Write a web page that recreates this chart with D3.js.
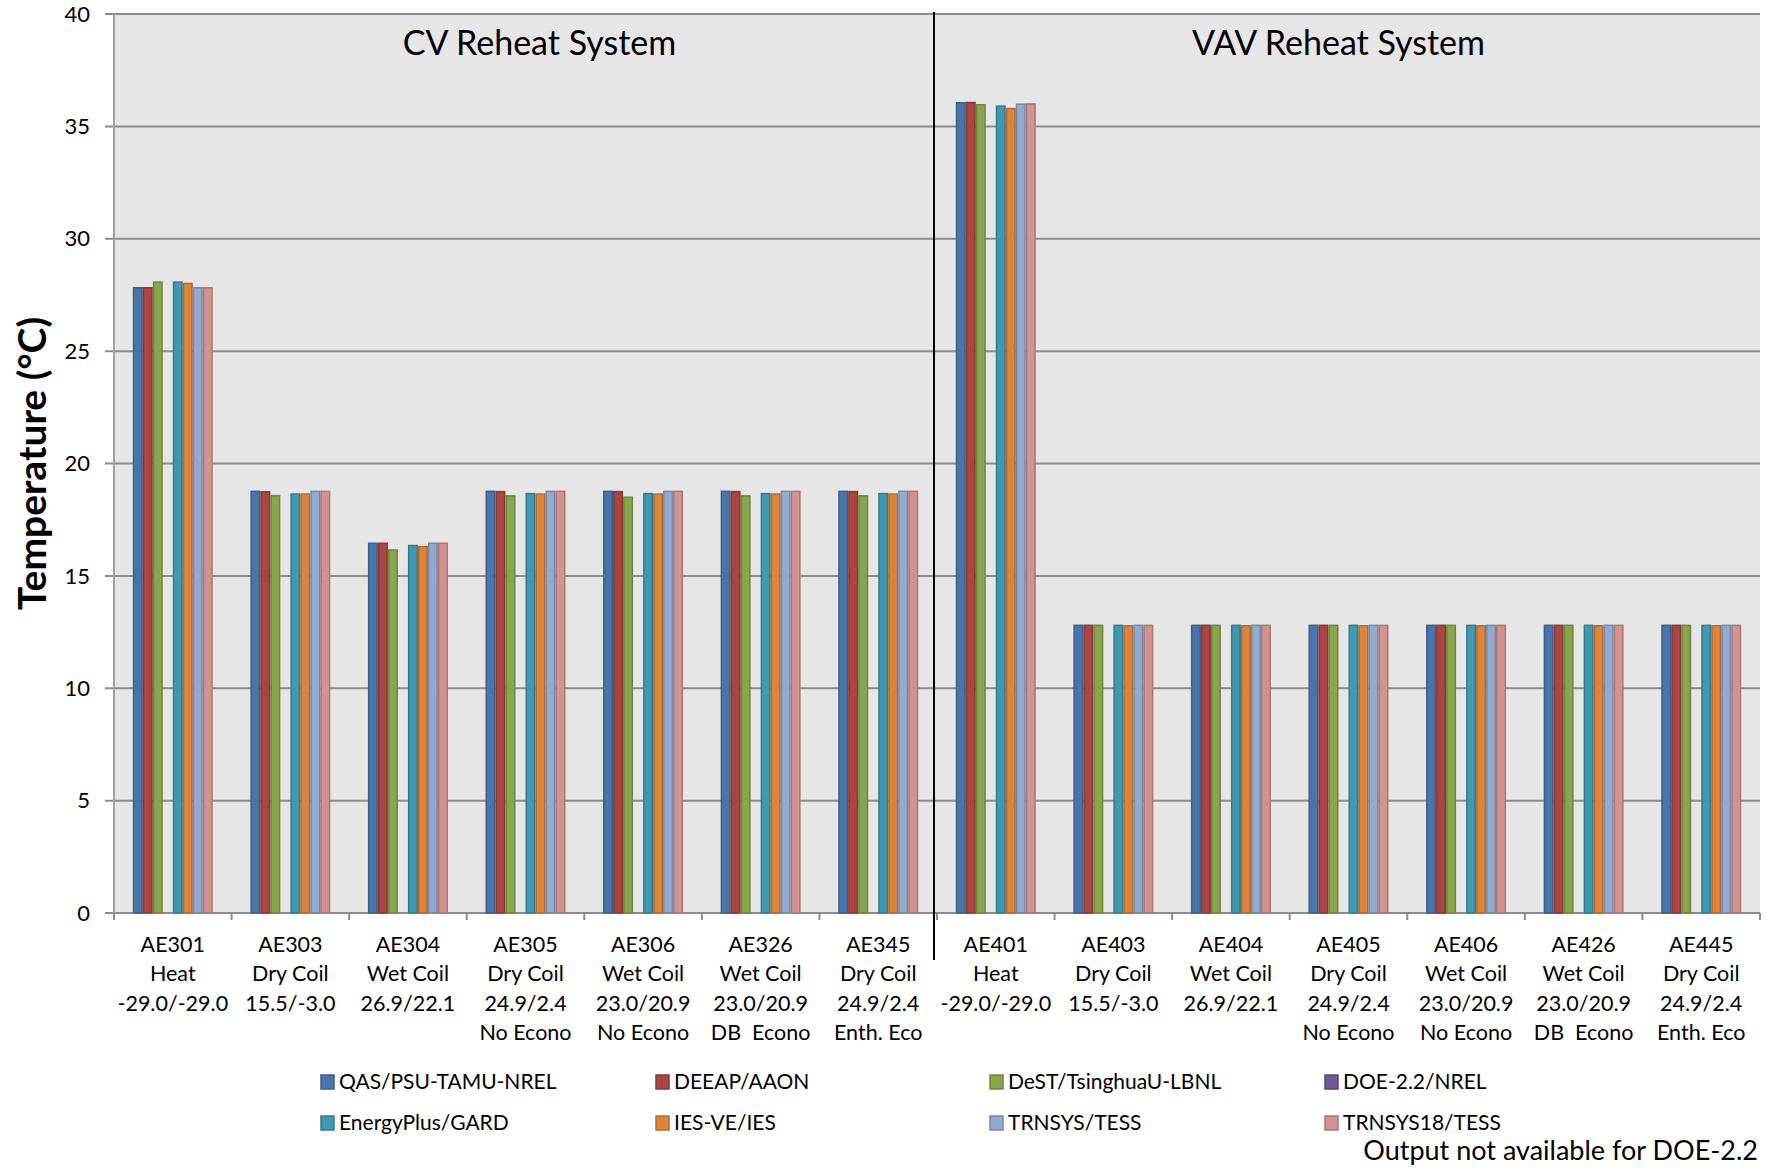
<!DOCTYPE html>
<html>
<head>
<meta charset="utf-8">
<script src="https://cdn.jsdelivr.net/npm/d3@7"></script>
<style>
  body { margin: 0; background: #fff; }
  text { font-family: Lato, "Open Sans", sans-serif; fill: #000; }
</style>
</head>
<body>
<div id="chart"></div>
<script>
// category labels (one array of lines per case)
var categories = [
	["AE301", "Heat", "-29.0/-29.0"],
	["AE303", "Dry Coil", "15.5/-3.0"],
	["AE304", "Wet Coil", "26.9/22.1"],
	["AE305", "Dry Coil", "24.9/2.4", "No Econo"],
	["AE306", "Wet Coil", "23.0/20.9", "No Econo"],
	["AE326", "Wet Coil", "23.0/20.9", "DB  Econo"],
	["AE345", "Dry Coil", "24.9/2.4", "Enth. Eco"],
	["AE401", "Heat", "-29.0/-29.0"],
	["AE403", "Dry Coil", "15.5/-3.0"],
	["AE404", "Wet Coil", "26.9/22.1"],
	["AE405", "Dry Coil", "24.9/2.4", "No Econo"],
	["AE406", "Wet Coil", "23.0/20.9", "No Econo"],
	["AE426", "Wet Coil", "23.0/20.9", "DB  Econo"],
	["AE445", "Dry Coil", "24.9/2.4", "Enth. Eco"]
];

var seriesNames = ["QAS/PSU-TAMU-NREL", "DEEAP/AAON", "DeST/TsinghuaU-LBNL", "DOE-2.2/NREL",
	"EnergyPlus/GARD", "IES-VE/IES", "TRNSYS/TESS", "TRNSYS18/TESS"];

var qas       = [27.82, 18.76, 16.45, 18.76, 18.76, 18.76, 18.76, 36.05, 12.80, 12.80, 12.80, 12.80, 12.80, 12.80];
var deeap     = [27.82, 18.74, 16.45, 18.75, 18.75, 18.75, 18.75, 36.06, 12.80, 12.80, 12.80, 12.80, 12.80, 12.80];
var dest      = [28.07, 18.57, 16.15, 18.56, 18.50, 18.56, 18.56, 35.96, 12.80, 12.80, 12.80, 12.80, 12.80, 12.80];
var doe22     = [null, null, null, null, null, null, null, null, null, null, null, null, null, null];
var energyPlus= [28.07, 18.64, 16.35, 18.66, 18.66, 18.66, 18.66, 35.90, 12.80, 12.80, 12.80, 12.80, 12.80, 12.80];
var iesVe     = [28.01, 18.64, 16.30, 18.64, 18.64, 18.64, 18.64, 35.79, 12.78, 12.78, 12.78, 12.78, 12.78, 12.78];
var trnsys    = [27.82, 18.76, 16.45, 18.76, 18.76, 18.76, 18.76, 35.99, 12.80, 12.80, 12.80, 12.80, 12.80, 12.80];
var trnsys18  = [27.82, 18.76, 16.45, 18.76, 18.76, 18.76, 18.76, 36.00, 12.80, 12.80, 12.80, 12.80, 12.80, 12.80];

var seriesValues = [qas, deeap, dest, doe22, energyPlus, iesVe, trnsys, trnsys18];

var yTicks = [0, 5, 10, 15, 20, 25, 30, 35, 40];
var sectionTitles = ["CV Reheat System", "VAV Reheat System"];
var footNote = "Output not available for DOE-2.2";

var colors = ["#4a74aa", "#aa4643", "#89a54e", "#71588f", "#4198af", "#db843d", "#93a9cf", "#d19392"];

var width = 1767, height = 1168;
var plotLeft = 114, plotRight = 1760, plotTop = 14, plotBottom = 913;

var svg = d3.select("#chart").append("svg")
	.attr("width", width)
	.attr("height", height);

var x = d3.scaleBand()
	.domain(d3.range(categories.length))
	.range([plotLeft, plotRight])
	.padding(0);

var inner = d3.scaleBand()
	.domain(d3.range(seriesNames.length))
	.range([(x.bandwidth() - 80) / 2, (x.bandwidth() + 80) / 2]);

var y = d3.scaleLinear().domain([0, 40]).range([plotBottom, plotTop]);

// plot background
svg.append("rect")
	.attr("x", plotLeft).attr("y", plotTop)
	.attr("width", plotRight - plotLeft).attr("height", plotBottom - plotTop)
	.attr("fill", "#e6e6e6");

// gridlines
svg.append("g").selectAll("line")
	.data(yTicks)
	.enter().append("line")
	.attr("x1", plotLeft - 9).attr("x2", plotRight)
	.attr("y1", function(d) { return y(d); })
	.attr("y2", function(d) { return y(d); })
	.attr("stroke", "#8c8c8c")
	.attr("stroke-width", 2);

// y tick labels
svg.append("g").selectAll("text")
	.data(yTicks)
	.enter().append("text")
	.attr("x", 90)
	.attr("y", function(d) { return y(d); })
	.attr("dy", "0.35em")
	.attr("text-anchor", "end")
	.style("font-size", "22px")
	.text(function(d) { return d; });

// left axis
svg.append("line")
	.attr("x1", plotLeft).attr("x2", plotLeft)
	.attr("y1", plotTop).attr("y2", plotBottom + 7)
	.attr("stroke", "#a0a0a0").attr("stroke-width", 2);

// category ticks
svg.append("g").selectAll("line")
	.data(d3.range(categories.length + 1))
	.enter().append("line")
	.attr("x1", function(d) { return plotLeft + d * x.step(); })
	.attr("x2", function(d) { return plotLeft + d * x.step(); })
	.attr("y1", plotBottom).attr("y2", plotBottom + 7)
	.attr("stroke", "#8c8c8c").attr("stroke-width", 2);

// bars
seriesValues.forEach(function(values, s) {
	svg.append("g").selectAll("rect")
		.data(values.map(function(v, i) { return {v: v, i: i}; }).filter(function(d) { return d.v !== null; }))
		.enter().append("rect")
		.attr("x", function(d) { return x(d.i) + inner(s) + 0.75; })
		.attr("y", function(d) { return y(d.v); })
		.attr("width", inner.bandwidth() - 1.5)
		.attr("height", function(d) { return plotBottom - y(d.v); })
		.attr("fill", colors[s])
		.attr("stroke", d3.color(colors[s]).darker(0.6))
		.attr("stroke-width", 1.5);
});

// divider between systems
svg.append("line")
	.attr("x1", x(7) - 3).attr("x2", x(7) - 3)
	.attr("y1", plotTop - 2).attr("y2", 960)
	.attr("stroke", "#000").attr("stroke-width", 2);

// section titles
svg.append("text")
	.attr("x", x(3) + x.bandwidth() / 2 + 14).attr("y", 43).attr("dy", "0.35em")
	.attr("text-anchor", "middle")
	.style("font-size", "34px")
	.text(sectionTitles[0]);
svg.append("text")
	.attr("x", x(10) + x.bandwidth() / 2 - 10).attr("y", 43).attr("dy", "0.35em")
	.attr("text-anchor", "middle")
	.style("font-size", "34px")
	.text(sectionTitles[1]);

// category labels
var catG = svg.append("g").selectAll("text")
	.data(categories)
	.enter().append("text")
	.attr("text-anchor", "middle")
	.style("font-size", "21.5px");
catG.selectAll("tspan")
	.data(function(d, i) { return d.map(function(line) { return {line: line, i: i}; }); })
	.enter().append("tspan")
	.attr("x", function(d) { return x(d.i) + x.bandwidth() / 2; })
	.attr("y", function(d, j) { return 944 + j * 29.5; })
	.attr("dy", "0.35em")
	.attr("xml:space", "preserve")
	.style("white-space", "pre")
	.text(function(d) { return d.line; });

// y axis title
svg.append("text")
	.attr("transform", "translate(32," + ((plotTop + plotBottom) / 2) + ") rotate(-90)")
	.attr("text-anchor", "middle")
	.attr("dy", "0.35em")
	.style("font-size", "39px")
	.style("font-weight", "bold")
	.text("Temperature (°C)");

// legend
var legendX = [321, 656, 990, 1325];
var legendY = [1082, 1123];
var legend = svg.append("g").selectAll("g")
	.data(seriesNames)
	.enter().append("g")
	.attr("transform", function(d, i) {
		return "translate(" + legendX[i % 4] + "," + legendY[Math.floor(i / 4)] + ")";
	});
legend.append("rect")
	.attr("x", 0).attr("y", -7)
	.attr("width", 13).attr("height", 14)
	.attr("fill", function(d, i) { return colors[i]; })
	.attr("stroke", function(d, i) { return d3.color(colors[i]).darker(0.6); })
	.attr("stroke-width", 1.5);
legend.append("text")
	.attr("x", 18).attr("dy", "0.35em")
	.style("font-size", "21px")
	.text(function(d) { return d; });

// note
svg.append("text")
	.attr("x", 1758).attr("y", 1151).attr("dy", "0.35em")
	.attr("text-anchor", "end")
	.style("font-size", "27px")
	.text(footNote);
</script>
</body>
</html>
